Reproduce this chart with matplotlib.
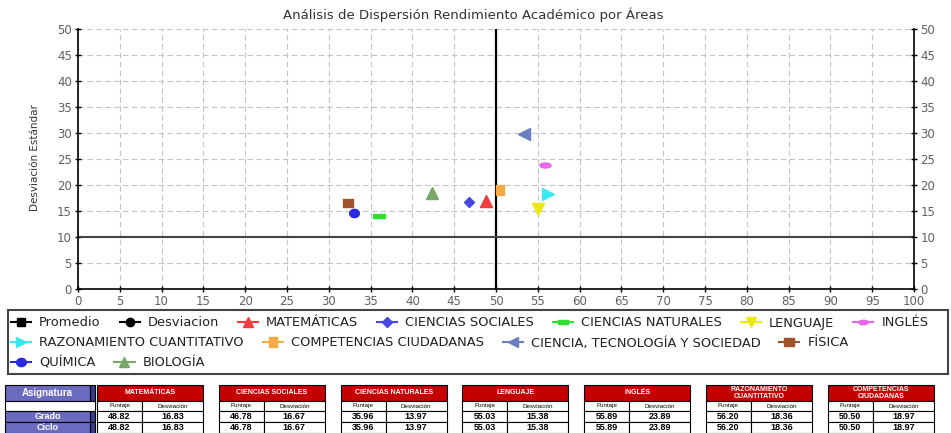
import numpy as np
import matplotlib
matplotlib.use("Agg")
import matplotlib.pyplot as plt
from matplotlib.lines import Line2D
from matplotlib.patches import Rectangle

# ---------------- DATA ----------------
areas = ["MATEMÁTICAS", "CIENCIAS SOCIALES", "CIENCIAS NATURALES", "LENGUAJE",
         "INGLÉS", "RAZONAMIENTO CUANTITATIVO", "COMPETENCIAS CIUDADANAS",
         "CIENCIA, TECNOLOGÍA Y SOCIEDAD", "FÍSICA", "QUÍMICA", "BIOLOGÍA"]
puntaje = [48.82, 46.78, 35.96, 55.03, 55.89, 56.20, 50.50, 53.30, 32.30, 33.05, 42.40]
desviacion = [16.83, 16.67, 13.97, 15.38, 23.89, 18.36, 18.97, 29.80, 16.50, 14.60, 18.40]

promedio_ref = 50
desviacion_ref = 10

# table (first 7 areas visible)
tabla_titulos = ["MATEMÁTICAS", "CIENCIAS SOCIALES", "CIENCIAS NATURALES", "LENGUAJE",
                 "INGLÉS", "RAZONAMIENTO\nCUANTITATIVO", "COMPETENCIAS\nCIUDADANAS"]
tabla_filas = ["Grado", "Ciclo"]

# ---------------- MARKERS ----------------
def ellipse(a, b, n=40):
    t = np.linspace(0, 2 * np.pi, n)
    return list(zip(a * np.cos(t), b * np.sin(t)))

def rect(a, b):
    return [(-a, -b), (a, -b), (a, b), (-a, b), (-a, -b)]

estilos = [
    ("#f03c3c", "^", 8),
    ("#4646e0", "D", 5.5),
    ("#2ee02e", rect(1, 0.35), 8),
    ("#eaea10", "v", 8),
    ("#e868e8", ellipse(1, 0.45), 8),
    ("#3ae8f0", ">", 8),
    ("#f8aa48", rect(0.85, 1), 7),
    ("#6a7ec0", "<", 8),
    ("#a0522d", rect(1, 0.8), 7.5),
    ("#2a2ae0", ellipse(1, 0.85), 7),
    ("#78a868", "^", 8),
]

# ---------------- FIGURE ----------------
W, H = 951, 433
fig = plt.figure(figsize=(W / 100, H / 100), dpi=100)
ax = fig.add_axes([78 / W, 1 - 289 / H, 836 / W, 260 / H])

ax.set_xlim(0, 100)
ax.set_ylim(0, 50)
ax.set_xticks(np.arange(0, 101, 5))
ax.set_yticks(np.arange(0, 51, 5))
ax.grid(True, linestyle=(0, (5, 3)), color="#c4c4c4", linewidth=0.8)
ax.set_axisbelow(True)

ax.axvline(promedio_ref, color="black", linewidth=1.6, zorder=2)
ax.axhline(desviacion_ref, color="#444444", linewidth=1.5, zorder=2)

for x, y, (c, m, s) in zip(puntaje, desviacion, estilos):
    ax.plot(x, y, marker=m, color=c, markersize=s, linestyle="none", zorder=3)

for side in ["left", "bottom"]:
    ax.spines[side].set_linestyle((0, (2, 1)))
    ax.spines[side].set_color("black")
    ax.spines[side].set_linewidth(1.2)
ax.spines["top"].set_visible(False)
ax.spines["right"].set_visible(False)
ax.tick_params(direction="inout", length=5, width=1, color="black",
               labelcolor="#606060", labelsize=8.5, pad=2)

ax2 = ax.twinx()
ax2.set_ylim(0, 50)
ax2.set_yticks(np.arange(0, 51, 5))
for side in ["left", "bottom", "top"]:
    ax2.spines[side].set_visible(False)
ax2.spines["right"].set_linestyle((0, (2, 1)))
ax2.spines["right"].set_color("black")
ax2.spines["right"].set_linewidth(1.2)
ax2.tick_params(direction="inout", length=5, width=1, color="black",
                labelcolor="#606060", labelsize=8.5, pad=2)

fig.text(473 / W, 1 - 15 / H, "Análisis de Dispersión Rendimiento Académico por Áreas",
         ha="center", va="center", fontsize=9.5, color="#333333")
fig.text(35 / W, 1 - 158 / H, "Desviación Estándar", rotation=90,
         ha="center", va="center", fontsize=7.5, color="#333333")

# ---------------- LEGEND ----------------
handles = [Line2D([], [], color="black", marker="s", markersize=6, label="Promedio"),
           Line2D([], [], color="black", marker="o", markersize=6, label="Desviacion")]
for nombre, (c, m, s) in zip(areas, estilos):
    handles.append(Line2D([], [], color=c, marker=m, markersize=min(s, 7), label=nombre))

filas = [handles[0:7], handles[7:11], handles[11:13]]
for i, fila in enumerate(filas):
    fig.legend(handles=fila, loc="center left",
               bbox_to_anchor=(11 / W, 1 - (323 + 20 * i) / H),
               ncol=len(fila), frameon=False, fontsize=9.4,
               handlelength=1.55, handletextpad=0.6, columnspacing=1.45,
               borderaxespad=0, borderpad=0, labelcolor="#222222")

fig.add_artist(Rectangle((8 / W, 1 - 374 / H), 940 / W, 64 / H,
                         transform=fig.transFigure, fill=False,
                         edgecolor="#444444", linewidth=1.5))

# ---------------- TABLE ----------------
tb = fig.add_axes([0, 0, 1, 1])
tb.set_xlim(0, W)
tb.set_ylim(H, 0)
tb.axis("off")
tb.patch.set_alpha(0)

morado = "#6a6abf"
rojo = "#c40000"
y0, h_head, h_sub, h_row = 385, 16, 10, 11

def celda(x, y, w, h, fc, txt="", color="black", size=5, bold=False):
    tb.add_patch(Rectangle((x, y), w, h, facecolor=fc, edgecolor="black", linewidth=0.8))
    if txt:
        tb.text(x + w / 2, y + h / 2, txt, ha="center", va="center", fontsize=size,
                color=color, fontweight="bold" if bold else "normal",
                family="Liberation Sans", linespacing=0.9)

celda(5, y0, 85, h_head, morado, "Asignatura", "white", 7, True)
celda(90, y0, 5, h_head, "#3a3a8a")
celda(5, y0 + h_head, 90, h_sub, "white")
for j, fila in enumerate(tabla_filas):
    yy = y0 + h_head + h_sub + j * h_row
    celda(5, yy, 85, h_row, morado, fila, "white", 6.5, True)
    celda(90, yy, 5, h_row, "#3a3a8a")

for i, titulo in enumerate(tabla_titulos):
    x0 = 97 + i * 121.8
    celda(x0, y0, 106, h_head, rojo, titulo, "white", 5, True)
    celda(x0, y0 + h_head, 45, h_sub, "white", "Puntaje", size=4.5)
    celda(x0 + 45, y0 + h_head, 61, h_sub, "white", "Desviación", size=4.5)
    for j in range(len(tabla_filas)):
        yy = y0 + h_head + h_sub + j * h_row
        celda(x0, yy, 45, h_row, "white", f"{puntaje[i]:.2f}", size=6.5, bold=True)
        celda(x0 + 45, yy, 61, h_row, "white", f"{desviacion[i]:.2f}", size=6.5, bold=True)

fig.savefig("out.png", dpi=100)
